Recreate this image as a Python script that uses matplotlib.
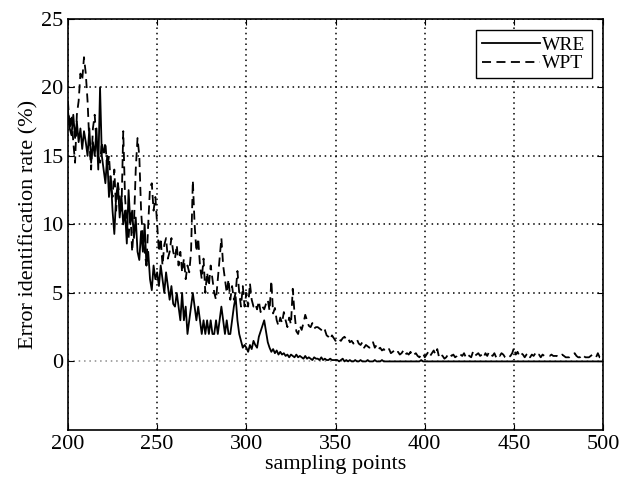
import numpy as np
import matplotlib
matplotlib.use("Agg")
import matplotlib.pyplot as plt

# sampling points 200..500
x = np.arange(200, 501)

# WRE (solid)
wre = [18.3, 17, 16.5, 18, 16.3, 17.5, 16, 17, 15.5, 16.8,
       16, 15, 17, 14.5, 16, 15, 17, 14, 20, 15,
       14, 13, 15, 12, 13.5, 11, 9.3, 12, 13, 10.5,
       12, 10, 11, 8.6, 12.5, 10, 11, 9, 10.5, 8,
       7.4, 9.5, 8, 10, 7, 8, 6, 5.2, 7, 6,
       6.5, 5.5, 7, 6, 5, 6.5, 5.5, 4.5, 5.5, 4.2,
       4, 5, 4, 3, 5, 3, 4, 2, 3, 4,
       5, 4, 3, 4, 3, 2, 3, 2, 3, 2,
       3, 2, 2, 3, 2, 3, 4, 3, 2, 3,
       2, 2, 3, 4, 4.7, 3, 2, 1.5, 1, 1.2,
       1.0, 0.7, 1.2, 0.9, 1.5, 1.2, 1.0, 1.8, 2.2, 2.6,
       3.0, 2.2, 1.4, 1.0, 0.7, 0.9, 0.6, 0.8, 0.5, 0.7,
       0.5, 0.6, 0.4, 0.5, 0.3, 0.5, 0.4, 0.3, 0.5, 0.3,
       0.4, 0.3, 0.2, 0.4, 0.2, 0.3, 0.2, 0.1, 0.3, 0.2,
       0.2, 0.1, 0.3, 0.1, 0.2, 0.1, 0.1, 0.2, 0.1, 0.1,
       0.1, 0.1, 0.0, 0.1, 0.2, 0.0, 0.1, 0.0, 0.1, 0.0,
       0, 0.1, 0, 0, 0.1, 0, 0, 0, 0.1, 0,
       0, 0, 0.1, 0, 0, 0, 0.1, 0, 0, 0,
       0, 0, 0, 0, 0, 0, 0, 0, 0, 0,
       0, 0, 0, 0, 0, 0, 0, 0, 0.1, 0,
       0, 0, 0, 0, 0, 0, 0, 0, 0, 0,
       0, 0, 0, 0, 0, 0, 0, 0, 0, 0,
       0, 0, 0, 0, 0, 0, 0, 0, 0, 0,
       0, 0, 0, 0, 0, 0, 0, 0, 0, 0,
       0, 0, 0, 0, 0, 0, 0, 0, 0, 0,
       0, 0, 0, 0, 0, 0, 0, 0, 0, 0,
       0, 0, 0, 0, 0, 0, 0, 0, 0, 0,
       0, 0, 0, 0, 0, 0, 0, 0, 0, 0,
       0, 0, 0, 0, 0, 0, 0, 0, 0, 0,
       0, 0, 0, 0, 0, 0, 0, 0, 0, 0,
       0]

# WPT (dashed)
wpt = [19, 17, 18, 16, 14.5, 18, 19, 21, 20.5, 22.2,
       21, 19, 16, 14, 17, 18, 16, 15, 14.5, 16,
       15, 16, 14, 15, 13, 12, 14, 11, 13, 12,
       11, 16.8, 12, 10, 9, 11, 8, 10, 14, 16.3,
       15, 11, 9, 8, 7, 10, 12.7, 13, 11, 12,
       10, 8, 9, 7, 8.5, 9, 7.5, 8, 9, 8,
       7.5, 8.5, 7, 8, 6.5, 7.5, 6, 7, 6.5, 8,
       13.2, 10, 8, 9, 7, 6, 7.5, 5, 6.5, 5.5,
       7, 6, 5, 4.5, 6, 7.5, 9, 7, 6, 5,
       6, 4.5, 5.5, 4.5, 5, 6.6, 5, 4, 5.5, 4,
       5, 4, 5.7, 4.5, 4, 4.2, 3.8, 4.4, 3.6, 4,
       3.8, 4.2, 4.5, 3.7, 5.9, 3.5, 3.9, 3, 2.6, 3.2,
       2.8, 3.6, 3, 2.5, 3.2, 2.7, 5.3, 3.5, 2.2, 2,
       2.6, 2.3, 2.8, 3.4, 3, 2.6, 2.5, 2.8, 2.4, 2.5,
       2.5, 2.4, 2.3, 2.5, 2.3, 1.9, 1.8, 1.6, 1.9, 1.7,
       1.5, 1.7, 1.6, 1.5, 1.7, 1.8, 1.6, 1.7, 1.4, 1.5,
       1.3, 1.4, 1.6, 1.3, 1.2, 1.4, 1.0, 1.2, 1.1, 1.0,
       1.2, 1.4, 1.0, 1.2, 0.9, 1.0, 0.8, 0.9, 0.7, 0.8,
       0.9, 0.6, 0.7, 0.8, 0.6, 0.7, 0.5, 0.6, 0.8, 0.5,
       0.6, 0.5, 0.7, 0.4, 0.5, 0.6, 0.4, 0.3, 0.5, 0.6,
       0.3, 0.5, 0.7, 0.4, 0.6, 0.8, 0.5, 0.9, 0.3, 0.5,
       0.4, 0.2, 0.3, 0.5, 0.6, 0.4, 0.5, 0.3, 0.4, 0.6,
       0.5, 0.4, 0.6, 0.3, 0.5, 0.4, 0.3, 0.7, 0.4, 0.5,
       0.6, 0.4, 0.5, 0.3, 0.6, 0.4, 0.7, 0.5, 0.4, 0.6,
       0.3, 0.5, 0.4, 0.6, 0.5, 0.3, 0.2, 0.3, 0.4, 0.6,
       1.0, 0.5, 0.7, 0.4, 0.6, 0.5, 0.3, 0.5, 0.6, 0.3,
       0.5, 0.4, 0.6, 0.4, 0.5, 0.3, 0.5, 0.4, 0.4, 0.4,
       0.4, 0.5, 0.4, 0.4, 0.4, 0.3, 0.4, 0.5, 0.4, 0.3,
       0.3, 0.3, 0.4, 0.5, 0.6, 0.4, 0.3, 0.3, 0.5, 0.4,
       0.3, 0.3, 0.3, 0.4, 0.5, 0.4, 0.3, 0.6, 0.3, 0.3,
       0.3]

plt.rcParams['font.family'] = 'Liberation Serif'
plt.rcParams['font.size'] = 15

fig = plt.figure(figsize=(6.29, 4.82), dpi=100)
ax = fig.add_axes([0.108, 0.108, 0.851, 0.853])

ax.plot(x, wre, color='black', lw=1.3, label='WRE', zorder=3)
ax.plot(x, wpt, color='black', lw=1.3, ls=(0, (5, 3)), label='WPT', zorder=3)

ax.set_xlim(200, 500)
ax.set_ylim(-5, 25)
ax.set_xticks([200, 250, 300, 350, 400, 450, 500])
ax.set_yticks([0, 5, 10, 15, 20, 25])
ax.grid(True, color='black', ls=(0, (1, 2.5)), lw=1.1)
# the zero grid line is lighter in the original
ax.get_ygridlines()[0].set_color('0.55')
ax.tick_params(direction='in', top=True, right=True, length=4, labelsize=16)
for sp in ax.spines.values():
    sp.set_linewidth(1.2)

ax.set_xlabel('sampling points', fontsize=16, labelpad=1)
ax.set_ylabel('Error identification rate (%)', fontsize=16, labelpad=2)

leg = ax.legend(loc='upper right', fancybox=False, framealpha=1, edgecolor='black',
                handlelength=3.0, handletextpad=0.1, borderpad=0.3, labelspacing=0.05,
                fontsize=14, borderaxespad=0.6)
leg.get_frame().set_linewidth(1.0)

fig.savefig('out.png', dpi=100)
